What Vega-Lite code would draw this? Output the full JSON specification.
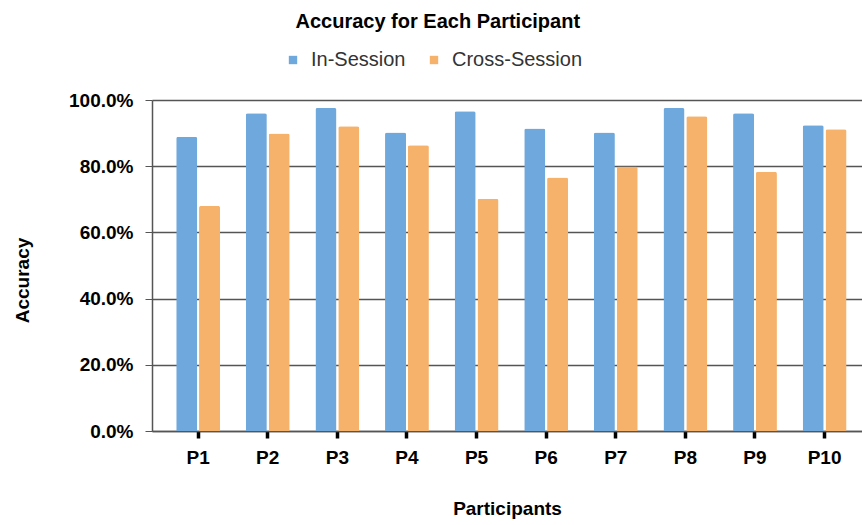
{
  "$schema": "https://vega.github.io/schema/vega-lite/v6.json",
  "width": 710,
  "height": 331,
  "autosize": {"type": "none"},
  "padding": {"left": 152, "top": 100, "right": 0, "bottom": 94},
  "background": "white",
  "title": {
    "text": "Accuracy for Each Participant",
    "font": "Liberation Sans",
    "fontSize": 20,
    "fontWeight": "bold",
    "color": "#000000",
    "anchor": "middle",
    "frame": "bounds",
    "offset": 18
  },
  "data": {
    "values": [
      {"participant": "P1", "session": "In-Session", "accuracy": 0.889},
      {"participant": "P1", "session": "Cross-Session", "accuracy": 0.680},
      {"participant": "P2", "session": "In-Session", "accuracy": 0.960},
      {"participant": "P2", "session": "Cross-Session", "accuracy": 0.899},
      {"participant": "P3", "session": "In-Session", "accuracy": 0.976},
      {"participant": "P3", "session": "Cross-Session", "accuracy": 0.921},
      {"participant": "P4", "session": "In-Session", "accuracy": 0.902},
      {"participant": "P4", "session": "Cross-Session", "accuracy": 0.863},
      {"participant": "P5", "session": "In-Session", "accuracy": 0.966},
      {"participant": "P5", "session": "Cross-Session", "accuracy": 0.702},
      {"participant": "P6", "session": "In-Session", "accuracy": 0.914},
      {"participant": "P6", "session": "Cross-Session", "accuracy": 0.766},
      {"participant": "P7", "session": "In-Session", "accuracy": 0.902},
      {"participant": "P7", "session": "Cross-Session", "accuracy": 0.799},
      {"participant": "P8", "session": "In-Session", "accuracy": 0.976},
      {"participant": "P8", "session": "Cross-Session", "accuracy": 0.951},
      {"participant": "P9", "session": "In-Session", "accuracy": 0.960},
      {"participant": "P9", "session": "Cross-Session", "accuracy": 0.783},
      {"participant": "P10", "session": "In-Session", "accuracy": 0.924},
      {"participant": "P10", "session": "Cross-Session", "accuracy": 0.912}
    ]
  },
  "mark": {"type": "bar", "cornerRadiusTopLeft": 2, "cornerRadiusTopRight": 2},
  "encoding": {
    "x": {
      "field": "participant",
      "type": "nominal",
      "sort": ["P1","P2","P3","P4","P5","P6","P7","P8","P9","P10"],
      "scale": {"paddingInner": 0.37, "paddingOuter": 0.285, "align": 0.61},
      "axis": {
        "title": "Participants",
        "titleFont": "Liberation Sans",
        "titleFontSize": 19,
        "titleFontWeight": "bold",
        "titleColor": "#000000",
        "titlePadding": 32,
        "labelFont": "Liberation Sans",
        "labelFontSize": 19,
        "labelFontWeight": "bold",
        "labelColor": "#000000",
        "labelAngle": 0,
        "labelPadding": 10,
        "domainColor": "#555555",
        "domainWidth": 1.5,
        "tickColor": "#000000",
        "tickWidth": 3.5,
        "tickSize": 7,
        "grid": false
      }
    },
    "xOffset": {
      "field": "session",
      "type": "nominal",
      "sort": ["In-Session", "Cross-Session"],
      "scale": {"paddingInner": 0.08}
    },
    "y": {
      "field": "accuracy",
      "type": "quantitative",
      "scale": {"domain": [0, 1]},
      "axis": {
        "title": "Accuracy",
        "titleFont": "Liberation Sans",
        "titleFontSize": 19,
        "titleFontWeight": "bold",
        "titleColor": "#000000",
        "titlePadding": 36,
        "titleY": 180,
        "format": ".1%",
        "values": [0, 0.2, 0.4, 0.6, 0.8, 1.0],
        "labelFont": "Liberation Sans",
        "labelFontSize": 19,
        "labelFontWeight": "bold",
        "labelColor": "#000000",
        "labelPadding": 12,
        "domainColor": "#555555",
        "domainWidth": 1.5,
        "tickColor": "#555555",
        "tickSize": 7,
        "gridColor": "#555555",
        "gridWidth": 1.3
      }
    },
    "color": {
      "field": "session",
      "type": "nominal",
      "sort": ["In-Session", "Cross-Session"],
      "scale": {"domain": ["In-Session", "Cross-Session"], "range": ["#6FA8DC", "#F6B26B"]},
      "legend": {
        "title": null,
        "orient": "none",
        "legendX": 131,
        "legendY": -50,
        "direction": "horizontal",
        "labelFont": "Liberation Sans",
        "labelFontSize": 20,
        "labelColor": "#333333",
        "labelOffset": 8,
        "symbolType": "square",
        "symbolSize": 70,
        "symbolStrokeWidth": 0,
        "columnPadding": 18
      }
    }
  },
  "config": {
    "view": {"stroke": null}
  }
}
